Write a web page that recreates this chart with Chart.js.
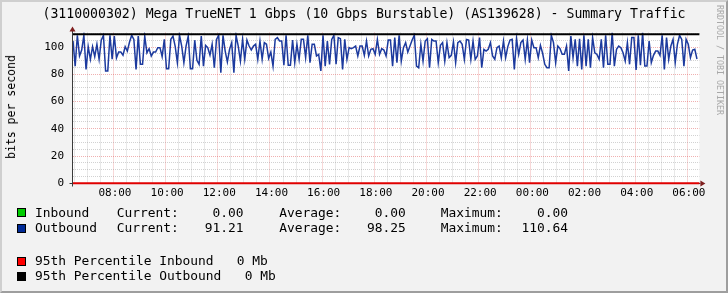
<!DOCTYPE html>
<html lang="en">
<head>
<meta charset="UTF-8">
<title>Mega TrueNET - Summary Traffic</title>
<script src="https://cdn.jsdelivr.net/npm/chart.js"></script>
<style>
  html, body { margin: 0; padding: 0; background: #F2F2F2; }
  #wrap {
    position: relative; width: 728px; height: 293px; overflow: hidden;
    background: #F2F2F2; font-family: "DejaVu Sans Mono", monospace; color: #000;
  }
  #frame {
    position: absolute; left: 0; top: 0; width: 728px; height: 293px; box-sizing: border-box;
    border-style: solid; border-width: 2px; border-color: #CFCFCF #9E9E9E #9E9E9E #CFCFCF;
    pointer-events: none;
  }
  #graph { position: absolute; left: 0; top: 0; }
  .txt { position: absolute; white-space: pre; line-height: 1; }
  .sw { position: absolute; width: 7px; height: 7px; border: 1px solid #000; }
  #ylabel {
    position: absolute; left: 11px; top: 107px; font-size: 11.5px; white-space: nowrap;
    transform: translate(-50%, -50%) rotate(-90deg);
  }
  #mark {
    position: absolute; left: 716px; top: 5px; font-size: 8.3px; color: #A8A8A8;
    writing-mode: vertical-rl; white-space: nowrap; line-height: 1;
  }
</style>
</head>
<body>
<div id="wrap">
  <canvas id="graph" width="728" height="293"></canvas>
  <div id="ylabel">bits per second</div>
  <div id="mark">RRDTOOL / TOBI OETIKER</div>
  <div id="frame"></div>
</div>

<script>
  const chartTitle = "(3110000302) Mega TrueNET 1 Gbps (10 Gbps Burstable) (AS139628) - Summary Traffic";

  // first sample at 06:27, one sample every 5 minutes
  const startHour = 6.45;
  const stepMinutes = 5;
  const xMin = 6.45;
  const xMax = 30.46;

  // x tick labels (hours past midnight of the first day)
  const xLabelHours = [8, 10, 12, 14, 16, 18, 20, 22, 24, 26, 28, 30];
  const xLabels = ["08:00", "10:00", "12:00", "14:00", "16:00", "18:00",
                   "20:00", "22:00", "00:00", "02:00", "04:00", "06:00"];
  const yLabels = [0, 20, 40, 60, 80, 100];
  const yMax = 110.64;

  // Outbound traffic
  const outbound = [
    104.4, 86, 108.6, 93.4, 97.8, 108.6, 83.6, 100.3, 91, 100.3, 93, 102,
    91, 105, 108.6, 82.4, 82.4, 108.6, 91, 108, 92, 96.3, 96.3, 94,
    100.3, 97, 103.7, 108.6, 105.6, 83.6, 108, 87.3, 87.3, 108, 95.8, 98.8,
    93.4, 96.3, 96.3, 99.5, 99.5, 93, 105.6, 84, 84, 105.6, 108, 100.4,
    88.5, 108.6, 100.7, 88.5, 100.7, 108, 84, 84, 105, 90.2, 87.3, 108,
    86, 101.2, 99.5, 94, 102, 84.8, 105.6, 108.6, 81.2, 108.6, 97, 89,
    98.3, 103.2, 81.2, 108.6, 100.7, 89.7, 105.6, 91, 105.1, 100.7, 97.8, 100.7,
    102, 91, 104.4, 91, 103.2, 102, 91.7, 96.3, 86, 105.6, 106.9, 104.4,
    104.4, 86.6, 108.6, 86.6, 86.6, 105.1, 88.5, 102, 91, 105.6, 105.6, 92.2,
    108.6, 88.5, 102, 102, 93.4, 94.6, 82.4, 108.6, 86, 104.4, 87.3, 105.6,
    108.6, 87.3, 106.9, 106.1, 83.6, 105.6, 91, 99.5, 98.8, 99.5, 100.7, 93.4,
    100.7, 100.7, 93.9, 104.4, 93.4, 98.3, 98.8, 94.6, 105.6, 94.6, 98.8, 97.8,
    93.4, 105.1, 105.1, 86, 106.9, 88.5, 108.6, 89.7, 99.5, 103.2, 96.3, 100.7,
    105.1, 108.6, 86, 84.8, 102, 89.7, 104.4, 106.1, 84.8, 105.6, 104.4, 104.4,
    88.5, 101.2, 103.2, 89.7, 103.2, 92.2, 93.9, 103.7, 88.5, 103.2, 104.4, 102,
    91, 105.6, 105.1, 91, 104.4, 91, 93.4, 106.9, 84.8, 98.3, 97, 98.3,
    103.2, 93.4, 91, 99.5, 100.7, 92.2, 104.4, 92.2, 100.3, 105.1, 105.6, 83.6,
    106.1, 94.6, 103.2, 105.1, 91, 105.1, 88.5, 105.1, 99.5, 99.5, 92.2, 101.2,
    95.4, 87.3, 84.8, 84.8, 108.6, 103.2, 88.5, 100.7, 98.8, 94.6, 94.6, 100.7,
    82.4, 108, 92.2, 105.6, 86, 106.1, 83.6, 108.6, 86, 105.6, 84.8, 106.9,
    95.8, 94.6, 91, 105.6, 84.8, 108.6, 87.3, 87.3, 110.6, 86, 98.3, 100.7,
    99.5, 95.8, 89.7, 103.2, 87.3, 106.9, 106.9, 83.1, 108.6, 86.6, 110.6, 86,
    86, 104.4, 88.5, 93.9, 97, 97, 93.9, 108.6, 83.6, 106.9, 91, 100.7,
    105.6, 88.5, 102, 108.6, 105.6, 86, 105.6, 102, 92.2, 97.8, 98.3, 91.21
  ];

  // horizontal rules (95th percentile lines)
  const pctInboundLine = 0;
  const pctOutboundLine = 109.3;

  // legend values
  const seriesNames = ["Inbound", "Outbound"];
  const seriesColors = ["#00CC00", "#002A97"];
  const currentVals = ["0.00", "91.21"];
  const averageVals = ["0.00", "98.25"];
  const maximumVals = ["0.00", "110.64"];
  const pctNames = ["95th Percentile Inbound", "95th Percentile Outbound"];
  const pctColors = ["#FF0000", "#000000"];
  const pctVals = ["0 Mb", "0 Mb"];

  // ---- text helpers ----
  const wrap = document.getElementById('wrap');
  function addText(str, x, baseline, size, align) {
    const el = document.createElement('div');
    el.className = 'txt';
    el.textContent = str;
    el.style.fontSize = size + 'px';
    el.style.top = (baseline - 0.846 * size) + 'px';
    if (align === 'right') el.style.right = (728 - x) + 'px';
    else if (align === 'center') { el.style.left = '0px'; el.style.width = '728px'; el.style.textAlign = 'center'; }
    else el.style.left = x + 'px';
    wrap.appendChild(el);
  }
  function addSwatch(color, x, y) {
    const el = document.createElement('div');
    el.className = 'sw';
    el.style.left = x + 'px';
    el.style.top = y + 'px';
    el.style.background = color;
    wrap.appendChild(el);
  }

  addText(chartTitle, 364, 18.3, 13.2, 'center');

  const rowBase = [217.7, 233.3];
  seriesNames.forEach((name, i) => {
    const b = rowBase[i];
    addSwatch(seriesColors[i], 17, Math.round(b - 9.5));
    addText(name, 35, b, 12.9);
    addText("Current:", 116.7, b, 12.9);
    addText(currentVals[i], 243.5, b, 12.9, 'right');
    addText("Average:", 279.3, b, 12.9);
    addText(averageVals[i], 405.8, b, 12.9, 'right');
    addText("Maximum:", 440.7, b, 12.9);
    addText(maximumVals[i], 568, b, 12.9, 'right');
  });

  const pctBase = [265.7, 281];
  const pctValX = [236.7, 244.8];
  pctNames.forEach((name, i) => {
    const b = pctBase[i];
    addSwatch(pctColors[i], 17, Math.round(b - 9));
    addText(name, 35, b, 12.9);
    addText(pctVals[i], pctValX[i], b, 12.9);
  });

  // ---- RRDtool-like canvas, axes and arrows ----
  const rrdFrame = {
    id: 'rrdFrame',
    beforeDraw(chart) {
      const { ctx, chartArea: a } = chart;
      ctx.save();
      ctx.fillStyle = '#FFFFFF';
      ctx.fillRect(a.left, a.top, a.right - a.left, a.bottom - a.top);
      ctx.restore();
    },
    beforeDatasetsDraw(chart) {
      const { ctx, chartArea: a } = chart;
      const ax = Math.round(a.left) - 0.5;
      const ay = Math.round(a.bottom) + 0.5;
      ctx.save();
      ctx.strokeStyle = '#3A3A3A';
      ctx.lineWidth = 1;
      ctx.beginPath();
      ctx.moveTo(ax, a.top - 3);
      ctx.lineTo(ax, ay + 3);
      ctx.moveTo(ax - 3, ay);
      ctx.lineTo(a.right + 1, ay);
      ctx.stroke();
      ctx.restore();
    },
    afterDatasetsDraw(chart) {
      const { ctx, chartArea: a } = chart;
      const ax = Math.round(a.left) - 0.5;
      const ay = Math.round(a.bottom) + 0.5;
      ctx.save();
      ctx.fillStyle = '#7F1F1F';
      ctx.beginPath();
      ctx.moveTo(ax, a.top - 6);
      ctx.lineTo(ax - 3, a.top - 1);
      ctx.lineTo(ax + 3, a.top - 1);
      ctx.closePath();
      ctx.fill();
      ctx.beginPath();
      ctx.moveTo(a.right + 6, ay);
      ctx.lineTo(a.right + 1, ay - 3);
      ctx.lineTo(a.right + 1, ay + 3);
      ctx.closePath();
      ctx.fill();
      ctx.restore();
    }
  };

  const minorGrid = 'rgba(143,143,143,0.4)';
  const majorGrid = 'rgba(222,79,79,0.45)';
  const tickFont = { family: 'DejaVu Sans Mono', size: 11 };

  new Chart(document.getElementById('graph'), {
    type: 'line',
    data: {
      datasets: [
        {
          label: pctNames[1],
          data: [{ x: xMin, y: pctOutboundLine }, { x: xMax, y: pctOutboundLine }],
          borderColor: pctColors[1], borderWidth: 2, pointRadius: 0, clip: false
        },
        {
          label: pctNames[0],
          data: [{ x: xMin, y: pctInboundLine }, { x: xMax, y: pctInboundLine }],
          borderColor: '#E00000', borderWidth: 2, pointRadius: 0, clip: false
        },
        {
          label: seriesNames[1],
          data: outbound.map((v, i) => ({ x: startHour + i * stepMinutes / 60, y: v })),
          borderColor: '#1C3A9E', borderWidth: 1.5, pointRadius: 0, tension: 0
        }
      ]
    },
    options: {
      responsive: false,
      animation: false,
      devicePixelRatio: 1,
      layout: { padding: { left: 0, right: 28.6, top: 32.5, bottom: 0 } },
      plugins: { legend: { display: false }, tooltip: { enabled: false } },
      scales: {
        x: {
          type: 'linear',
          min: xMin,
          max: xMax,
          afterFit(s) { s.height = 293 - 183.3; },
          border: { display: false, dash: [1, 1] },
          grid: {
            drawTicks: false,
            color: (c) => {
              const v = c.tick ? c.tick.value : 0;
              if (v % 2 === 0) return majorGrid;
              if (v % 0.5 === 0) return minorGrid;
              return 'transparent';
            }
          },
          ticks: {
            stepSize: 0.5,
            includeBounds: false,
            autoSkip: false,
            maxRotation: 0,
            padding: 3,
            labelOffset: 1.5,
            color: '#000',
            font: tickFont,
            callback: (v) => {
              const k = xLabelHours.indexOf(v);
              return k >= 0 ? xLabels[k] : '';
            }
          }
        },
        y: {
          min: 0,
          max: yMax,
          afterFit(s) { s.width = 73; },
          border: { display: false, dash: [1, 1] },
          grid: {
            drawTicks: false,
            color: (c) => {
              const v = c.tick ? c.tick.value : 0;
              if (v === 0) return 'transparent';
              if (v % 20 === 0) return majorGrid;
              if (v % 5 === 0) return minorGrid;
              return 'transparent';
            }
          },
          ticks: {
            stepSize: 5,
            includeBounds: false,
            autoSkip: false,
            padding: 9,
            color: '#000',
            font: tickFont,
            callback: (v) => (yLabels.indexOf(v) >= 0 ? String(v) : '')
          }
        }
      }
    },
    plugins: [rrdFrame]
  });
</script>
</body>
</html>
